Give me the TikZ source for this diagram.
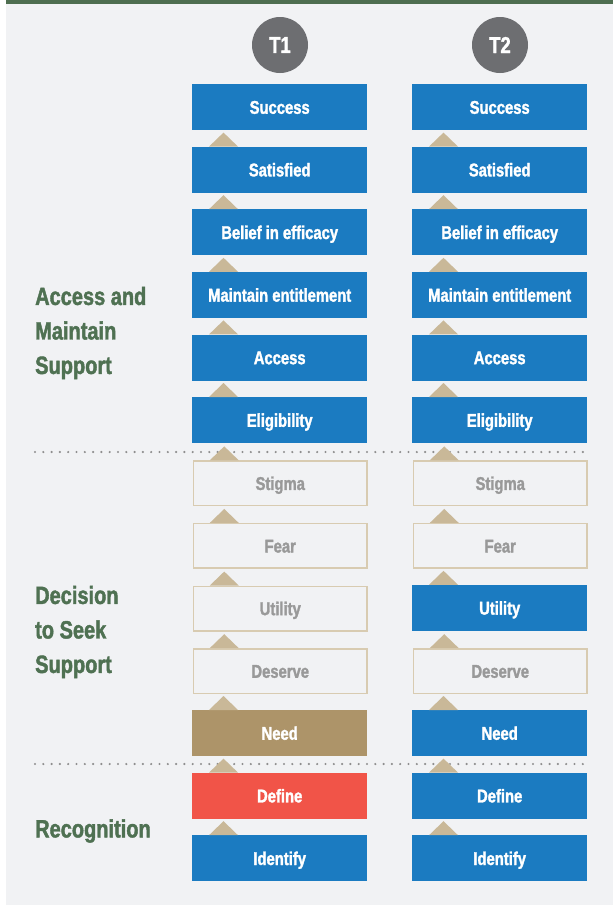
\documentclass[tikz,border=0pt]{standalone}
\usepackage{fontspec}
\setmainfont{Liberation Sans}[FakeStretch=0.8,BoldFeatures={FakeBold=1.6}]
\usepackage{tikz}

\definecolor{panelbg}{HTML}{F1F2F4}
\definecolor{topbar}{HTML}{4E6E50}
\definecolor{stagegreen}{HTML}{4F7152}
\definecolor{badgegray}{HTML}{6D6E71}
\definecolor{stepblue}{HTML}{1B7BC1}
\definecolor{tritan}{HTML}{C9B898}
\definecolor{boxline}{HTML}{D8CBB1}
\definecolor{fadetext}{HTML}{999999}
\definecolor{needtan}{HTML}{AD9469}
\definecolor{definered}{HTML}{F15448}
\definecolor{dotgray}{HTML}{8E8E8E}

\begin{document}
\begin{tikzpicture}[x=1pt,y=-1pt,
	box/.style={minimum width=175pt,minimum height=46pt,inner sep=0pt,anchor=north west,
		text height=13.2pt,text depth=0pt,
		font=\bfseries\fontsize{18.5}{18.5}\selectfont,text=white},
	bluebox/.style={box,fill=stepblue},
	openbox/.style={box,draw=boxline,line width=1.5pt,minimum width=173.5pt,minimum height=44.5pt,
		fill=panelbg,text=fadetext},
	needbox/.style={box,fill=needtan},
	definebox/.style={box,fill=definered},
	badge/.style={circle,fill=badgegray,minimum size=56pt,inner sep=0pt,text=white,
		font=\bfseries\fontsize{23}{23}\selectfont},
	stage/.style={anchor=west,align=left,inner sep=0pt,text=stagegreen,
		font=\bfseries\fontsize{25}{34.5}\selectfont},
	dots/.style={dotgray,line width=2.4pt,line cap=round,dash pattern=on 0pt off 8.3pt},
	tri/.style={fill=tritan}]
	\useasboundingbox (0,0) rectangle (613,905);
	\fill[panelbg] (6,4) rectangle (613,905);
	\fill[topbar] (6,0) rectangle (613,4);

	\node[badge] (t1) at (280,45) {T1};
	\node[badge] (t2) at (500,45) {T2};

	% T1
	\node[bluebox] (l1) at (192,84) {Success};
	\node[bluebox] (l2) at (192,146.6) {Satisfied};
	\node[bluebox] (l3) at (192,209.2) {Belief in efficacy};
	\node[bluebox] (l4) at (192,271.8) {Maintain entitlement};
	\node[bluebox] (l5) at (192,334.4) {Access};
	\node[bluebox] (l6) at (192,397) {Eligibility};
	\node[openbox] (l7) at (192.75,460.35) {Stigma};
	\node[openbox] (l8) at (192.75,522.95) {Fear};
	\node[openbox] (l9) at (192.75,585.55) {Utility};
	\node[openbox] (l10) at (192.75,648.15) {Deserve};
	\node[needbox] (l11) at (192,710) {Need};
	\node[definebox] (l12) at (192,772.6) {Define};
	\node[bluebox] (l13) at (192,835.2) {Identify};

	% T2
	\node[bluebox] (r1) at (412,84) {Success};
	\node[bluebox] (r2) at (412,146.6) {Satisfied};
	\node[bluebox] (r3) at (412,209.2) {Belief in efficacy};
	\node[bluebox] (r4) at (412,271.8) {Maintain entitlement};
	\node[bluebox] (r5) at (412,334.4) {Access};
	\node[bluebox] (r6) at (412,397) {Eligibility};
	\node[openbox] (r7) at (412.75,460.35) {Stigma};
	\node[openbox] (r8) at (412.75,522.95) {Fear};
	\node[bluebox] (r9) at (412,584.8) {Utility};
	\node[openbox] (r10) at (412.75,648.15) {Deserve};
	\node[bluebox] (r11) at (412,710) {Need};
	\node[bluebox] (r12) at (412,772.6) {Define};
	\node[bluebox] (r13) at (412,835.2) {Identify};

	\node[stage] (access) at (35,333) {Access and\\Maintain\\Support};
	\node[stage] (decision) at (35,632) {Decision\\to Seek\\Support};
	\node[stage] (recognition) at (35,831) {Recognition};

	\coordinate (d1w) at (35,452);
	\coordinate (d1e) at (591,452);
	\coordinate (d2w) at (35,764);
	\coordinate (d2e) at (591,764);
	\draw[dots] (d1w) -- (d1e);
	\draw[dots] (d2w) -- (d2e);

	\foreach \a/\b in {1/2,2/3,3/4,4/5,5/6,6/7,7/8,8/9,9/10,10/11,11/12,12/13} {
		\fill[tri] ([xshift=17pt]l\b.north west) -- ++(14.5,-14) -- ++(14.5,14) -- cycle;
		\fill[tri] ([xshift=17pt]r\b.north west) -- ++(14.5,-14) -- ++(14.5,14) -- cycle;
	}
\end{tikzpicture}
\end{document}
